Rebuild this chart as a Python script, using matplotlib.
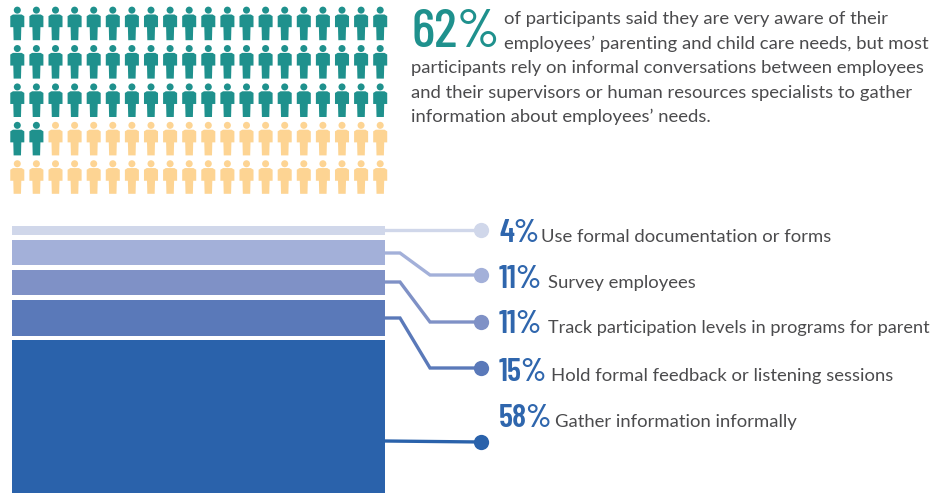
import numpy as np
import matplotlib
matplotlib.use('Agg')
import matplotlib.pyplot as plt
from matplotlib.path import Path

W, H = 934, 494

# pictogram data
n_people = 100
n_aware = 62
per_row = 20

# bar data, top to bottom
shares = np.array([4, 11, 11, 15, 58])
share_labels = ['4%', '11%', '11%', '15%', '58%']
methods = ['Use formal documentation or forms',
           'Survey employees',
           'Track participation levels in programs for parent',
           'Hold formal feedback or listening sessions',
           'Gather information informally']
bar_colors = ['#d0d7ea', '#a3b0d9', '#7f91c6', '#5a79b9', '#2a62ab']

intro_first = ['of participants said they are very aware of their',
               "employees\u2019 parenting and child care needs, but most"]
intro_rest = ['participants rely on informal conversations between employees',
              'and their supervisors or human resources specialists to gather',
              "information about employees\u2019 needs."]

TEAL = '#1f918d'
YELLOW = '#fdd493'
TEXT = '#4b4b4d'
BLUE = '#2f66ad'
NARROW = ['Barlow Condensed', 'Roboto', 'DejaVu Sans']
BODY = ['Lato', 'DejaVu Sans']
BODY_SIZE = 13.3


def person_marker():
    """
    Builds the person icon as one path, head and body
    """
    head = Path.circle((0, 0.80), 0.21)
    body = Path([(-0.26, 0.54), (0.26, 0.54), (0.42, 0.44), (0.42, -0.22), (0.24, -0.22),
                 (0.22, -1), (-0.22, -1), (-0.24, -0.22), (-0.42, -0.22), (-0.42, 0.44),
                 (-0.26, 0.54)], closed=True)
    return Path.make_compound_path(head, body)


fig = plt.figure(figsize=(W / 100, H / 100), dpi=100, facecolor='white')

# overlay in pixel coordinates for the layout
ax = fig.add_axes([0, 0, 1, 1])
ax.set_xlim(0, W)
ax.set_ylim(H, 0)
ax.axis('off')

# people grid
idx = np.arange(n_people)
row, col = np.divmod(idx, per_row)
px = 17.3 + col * 19.1
py = 23.5 + row * 38.4
colors = np.where(idx < n_aware, TEAL, YELLOW)
ax.scatter(px, py, s=590, marker=person_marker(), c=colors, linewidths=0)

# intro text
ax.text(411, 47, '%d%%' % n_aware, color=TEAL, fontsize=39.5, family=NARROW, weight=500, va='baseline')
ax.text(504, 24, intro_first[0], color=TEXT, fontsize=BODY_SIZE, family=BODY, va='baseline')
ax.text(504, 49, intro_first[1], color=TEXT, fontsize=BODY_SIZE, family=BODY, va='baseline')
for i, line in enumerate(intro_rest):
    ax.text(411, 73 + i * 24.5, line, color=TEXT, fontsize=BODY_SIZE, family=BODY, va='baseline')

# stacked bars, scale is percent going downward
bar_top = 224.5
bar_scale = 2.73
bar_ax = fig.add_axes([12 / W, 0, (385 - 12) / W, 1 - bar_top / H])
bar_ax.set_xlim(0, 1)
bar_ax.set_ylim(shares.sum() + 0.2, 0)
bar_ax.axis('off')
ends = np.cumsum(shares)
starts = ends - shares
gap = 4.5 / bar_scale
tops = starts + gap
tops[0] = starts[0] + 0.5
bar_ax.bar(0.5, ends - tops, width=1, bottom=tops, color=bar_colors, linewidth=0)

# leader lines and dots
dot_x = 481
start_y = [230, 253, 282, 318, 441]
dot_y = [230, 275, 322, 368, 442]
text_y = [242, 288, 333, 381, 427]
pct_x = 499
name_x = [541, 548, 548, 551, 555]
# the long label has to stop at the right edge
name_size = [BODY_SIZE, BODY_SIZE, 13.05, BODY_SIZE, BODY_SIZE]
for i in range(len(shares)):
    if start_y[i] == dot_y[i] or i == 4:
        xs = [385, dot_x]
        ys = [start_y[i], dot_y[i]]
    else:
        xs = [385, 400, 430, dot_x]
        ys = [start_y[i], start_y[i], dot_y[i], dot_y[i]]
    ax.plot(xs, ys, color=bar_colors[i], lw=2.4, solid_joinstyle='miter', zorder=3)
    ax.plot([dot_x], [dot_y[i]], 'o', ms=11, color=bar_colors[i], mew=0, zorder=4)
    ax.text(pct_x, text_y[i], share_labels[i], color=BLUE, fontsize=23.5, family=NARROW, weight=600, va='baseline')
    ax.text(name_x[i], text_y[i], methods[i], color=TEXT, fontsize=name_size[i], family=BODY, va='baseline')

fig.savefig('out.png', dpi=100, facecolor='white')
